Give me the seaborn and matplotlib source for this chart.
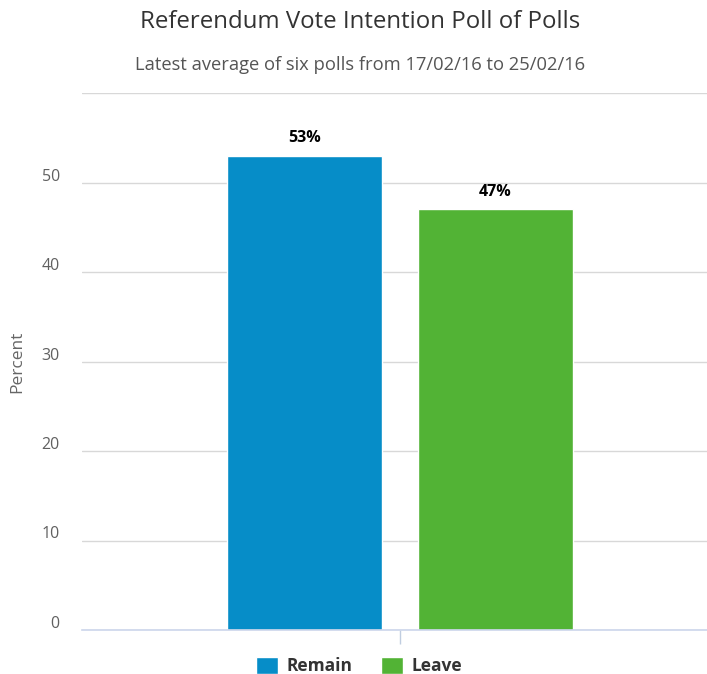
import numpy as np
import pandas as pd
import seaborn as sns
import matplotlib.pyplot as plt
import matplotlib.transforms as mtransforms
from matplotlib.patches import Patch

# data
sides = ['Remain', 'Leave']
shares = [53, 47]
colors = ['#068dc8', '#52b335']
y_ticks = [0, 10, 20, 30, 40, 50, 60]

df = pd.DataFrame({'cat': [''] * len(sides), 'side': sides, 'pct': shares})

sns.set_theme(style='white')
plt.rcParams['font.family'] = ['Open Sans', 'DejaVu Sans']

fig = plt.figure(figsize=(7.07, 6.74), dpi=100)
W, H = 707, 674
ax = fig.add_axes([82 / W, 44 / H, 636 / W, 537 / H])

sns.barplot(df, x='cat', y='pct', hue='side', palette=colors, width=0.6, gap=0.19,
            saturation=1, ax=ax, legend=False)

ax.set_xlim(-0.5, 0.5)
ax.set_ylim(0, 60)
ax.set_yticks(y_ticks)
ax.set_yticklabels([str(t) if t < 60 else '' for t in y_ticks], color='#606060', fontsize=11.5)
ax.tick_params(axis='y', length=0, pad=16)
# labels sit a little above their grid line, like highcharts does
shift = mtransforms.ScaledTranslation(0, 2 / 100, fig.dpi_scale_trans)
for lab in ax.get_yticklabels():
    lab.set_va('baseline')
    lab.set_transform(lab.get_transform() + shift)
ax.tick_params(axis='x', bottom=True, length=10, color='#c0cde0', width=1, labelsize=0)
ax.set_xticks([0])
ax.set_xticklabels([''])
ax.set_xlabel('')
ax.set_ylabel('Percent', color='#666666', fontsize=12.5, labelpad=12)
ax.yaxis.grid(True, color='#d8d8d8', linewidth=1)
ax.set_axisbelow(True)
for s in ['left', 'right', 'top']:
    ax.spines[s].set_visible(False)
ax.spines['bottom'].set_color('#ccd6eb')
ax.spines['bottom'].set_linewidth(1.2)

for bar in ax.patches:
    h = bar.get_height()
    if h > 0:
        ax.annotate(f'{h:.0f}%', (bar.get_x() + bar.get_width() / 2, h),
                    xytext=(0, 7), textcoords='offset points', ha='center',
                    va='bottom', fontsize=11.5, fontweight='bold', color='#000000')

fig.text(360 / W, 1 - 22 / H, 'Referendum Vote Intention Poll of Polls',
         ha='center', va='center', fontsize=17.3, color='#333333')
fig.text(360 / W, 1 - 65 / H, 'Latest average of six polls from 17/02/16 to 25/02/16',
         ha='center', va='center', fontsize=13.2, color='#555555')

handles = [Patch(facecolor=c, label=s) for s, c in zip(sides, colors)]
fig.legend(handles=handles, loc='center', bbox_to_anchor=(359 / W, 8 / H), ncol=2,
           frameon=False, prop={'weight': 'bold', 'size': 12.5}, labelcolor='#333333',
           handlelength=1.3, handleheight=1.1, columnspacing=1.6, handletextpad=0.5)

fig.savefig('out.png', dpi=100)
